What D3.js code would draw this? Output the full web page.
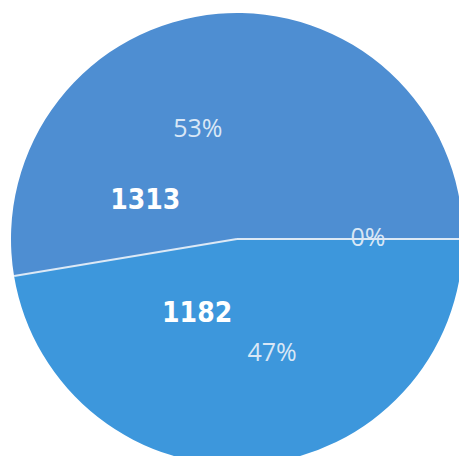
<!DOCTYPE html>
<html>
<head>
<meta charset="utf-8">
<script src="https://cdn.jsdelivr.net/npm/d3@7"></script>
<style>
  html, body { margin: 0; padding: 0; background: #ffffff; }
  svg { display: block; }
</style>
</head>
<body>
<svg id="chart" width="459" height="456"></svg>
<script>
// ---- data ----
const categories = ["B", "A", "C"];
const values = [1182, 1313, 0];
const colors = ["#3d97dc", "#4e8ed2", "#4e8ed2"];

// ---- layout (label placement in degrees / px from centre) ----
const pctPlacement = [{a: 162.7, r: 118}, {a: 340.6, r: 118}, {a: 89.3, r: 131}];
const numPlacement = [{a: 208.7, r: 83}, {a: 293.5, r: 100}, null];

const W = 459, H = 456;
const cx = 237, cy = 239, R = 226;
const svg = d3.select("#chart");

const total = d3.sum(values);
const pie = d3.pie().sort(null).value(d => d)
  .startAngle(Math.PI / 2).endAngle(Math.PI / 2 + 2 * Math.PI);
const arcs = pie(values);
const arc = d3.arc().innerRadius(0).outerRadius(R);

const g = svg.append("g").attr("transform", `translate(${cx},${cy})`);

g.selectAll("path.slice")
  .data(arcs)
  .join("path")
  .attr("class", "slice")
  .attr("d", arc)
  .attr("fill", (d, i) => colors[i]);

// separators
g.selectAll("line.sep")
  .data(arcs)
  .join("line")
  .attr("class", "sep")
  .attr("x1", 0).attr("y1", 0)
  .attr("x2", d => R * Math.sin(d.startAngle))
  .attr("y2", d => -R * Math.cos(d.startAngle))
  .attr("stroke", "#dce9f6")
  .attr("stroke-width", 2);

const polar = p => {
  const a = p.a * Math.PI / 180;
  return [p.r * Math.sin(a), -p.r * Math.cos(a)];
};
const fmt = d3.format(".0%");

g.selectAll("text.pct")
  .data(arcs)
  .join("text")
  .attr("class", "pct")
  .attr("transform", (d, i) => `translate(${polar(pctPlacement[i])})`)
  .attr("text-anchor", "middle")
  .attr("dy", "0.36em")
  .attr("font-family", "Open Sans, sans-serif")
  .attr("font-size", 25)
  .attr("fill", "#d9e7f6")
  .text(d => fmt(d.value / total));

g.selectAll("text.num")
  .data(arcs.filter((d, i) => numPlacement[i]))
  .join("text")
  .attr("class", "num")
  .attr("transform", d => `translate(${polar(numPlacement[d.index])})`)
  .attr("text-anchor", "middle")
  .attr("dy", "0.36em")
  .attr("font-family", "DejaVu Sans Condensed, DejaVu Sans, sans-serif")
  .attr("font-stretch", "condensed")
  .attr("font-weight", "bold")
  .attr("font-size", 28)
  .attr("fill", "#ffffff")
  .text(d => d.value);
</script>
</body>
</html>
